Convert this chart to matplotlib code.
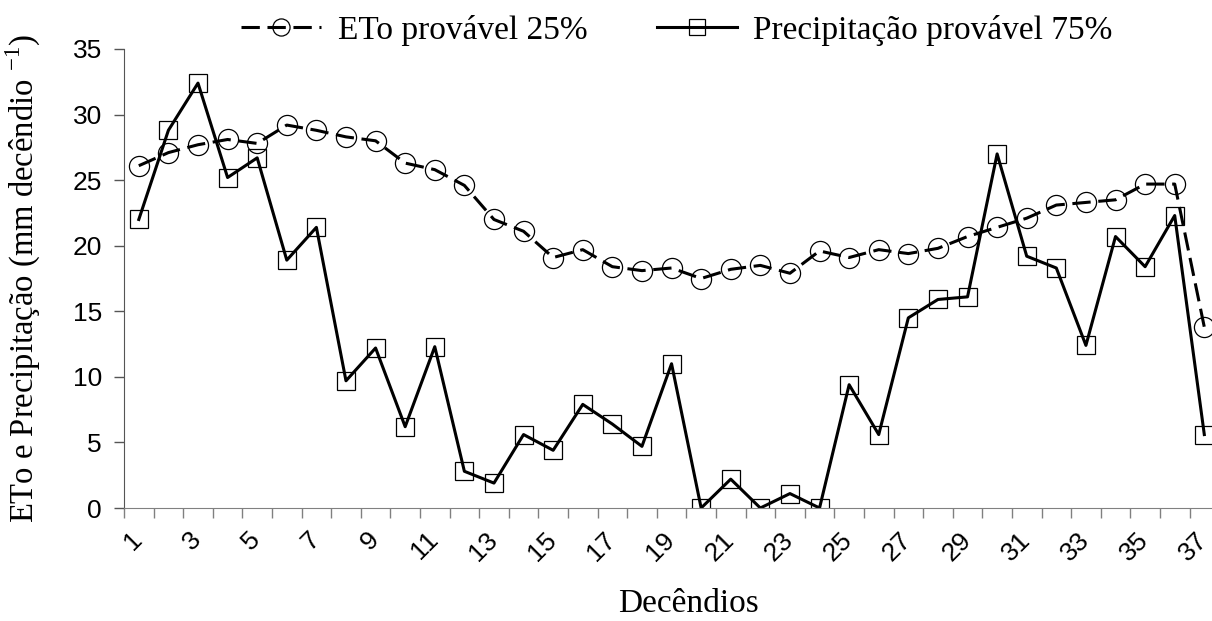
import matplotlib
matplotlib.use("Agg")
import matplotlib.pyplot as plt
from matplotlib.ticker import FixedLocator
from matplotlib.transforms import ScaledTranslation

plt.rcParams['font.family'] = ['Liberation Serif', 'DejaVu Serif']
plt.rcParams['mathtext.fontset'] = 'custom'
plt.rcParams['mathtext.rm'] = 'Liberation Serif'

decendios = list(range(1, 38))
eto_25 = [26.1, 27.1, 27.7, 28.1, 27.8, 29.2, 28.8, 28.3, 28.0, 26.3,
          25.8, 24.6, 22.0, 21.1, 19.1, 19.7, 18.4, 18.1, 18.3, 17.5,
          18.2, 18.5, 17.9, 19.6, 19.1, 19.7, 19.4, 19.8, 20.7, 21.4,
          22.1, 23.1, 23.3, 23.5, 24.7, 24.7, 13.8]
prec_75 = [22.0, 28.8, 32.4, 25.2, 26.7, 18.9, 21.4, 9.7, 12.2, 6.2,
           12.3, 2.8, 1.9, 5.6, 4.4, 7.9, 6.4, 4.7, 11.0, 0.0,
           2.2, 0.0, 1.1, 0.0, 9.4, 5.6, 14.5, 15.9, 16.1, 27.0,
           19.2, 18.3, 12.4, 20.7, 18.4, 22.3, 5.6]
tick_labels = [str(d) for d in decendios[::2]]

fig = plt.figure(figsize=(12.12, 6.21), dpi=100)
ax = fig.add_axes([124 / 1212, 113 / 621, 1 - 124 / 1212, (508 - 49) / 621])

ax.plot(decendios, eto_25, color='black', lw=2.2, linestyle=(0, (6, 2.5)),
        marker='o', ms=14.5, mfc='none', mec='black', mew=0.9,
        label='ETo provável 25%')
ax.plot(decendios, prec_75, color='black', lw=2.2, linestyle='-',
        marker='s', ms=13, mfc='none', mec='black', mew=0.9,
        label='Precipitação provável 75%')

ax.set_xlim(0.5, 37.26)
ax.set_ylim(0, 35)

ax.spines['top'].set_visible(False)
ax.spines['right'].set_visible(False)
ax.spines['left'].set_color('#555555')
ax.spines['bottom'].set_color('#808080')

ax.set_yticks(range(0, 36, 5))
ax.set_xticks(decendios[::2])
ax.set_xticklabels(tick_labels, rotation=45, ha='right', va='top')
ax.xaxis.set_minor_locator(FixedLocator([d + 0.5 for d in range(0, 38)]))
ax.tick_params(axis='x', which='major', length=0, pad=14)
ax.tick_params(axis='x', which='minor', length=7, width=1, color='#808080', direction='out')
ax.tick_params(axis='y', length=7, width=1, color='#555555', pad=9)
for lab in ax.get_xticklabels() + ax.get_yticklabels():
    lab.set_fontfamily('Liberation Sans')
    lab.set_fontsize(19)
shift = ScaledTranslation(8 / 100, 0, fig.dpi_scale_trans)
for lab in ax.get_xticklabels():
    lab.set_transform(lab.get_transform() + shift)

ax.set_ylabel('ETo e Precipitação (mm decêndio $^{-1}$)', fontsize=23.5)
ax.yaxis.set_label_coords(-0.0745, 0.5)
fig.text(688 / 1212, 1 - 604 / 621, 'Decêndios', fontsize=24, ha='center', va='center')

fig.legend(loc='center', bbox_to_anchor=(677 / 1212, 1 - 30 / 621), ncol=2,
           frameon=False, fontsize=24, handlelength=2.4, handletextpad=0.5,
           columnspacing=2.07, markerscale=0.85)

fig.savefig('out.png', dpi=100)
